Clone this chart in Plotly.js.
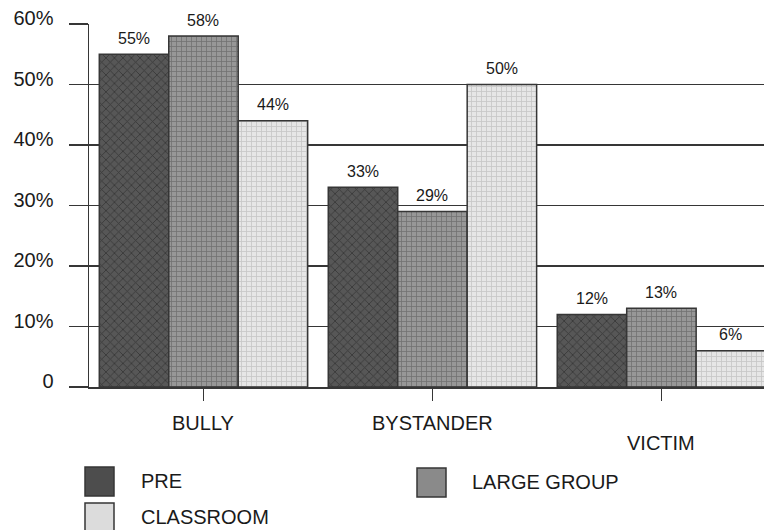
<!DOCTYPE html>
<html>
<head>
<meta charset="utf-8">
<script src="https://cdn.plot.ly/plotly-3.0.1.min.js"></script>
<style>
  html, body { margin: 0; padding: 0; background: #fff; }
  #chart { width: 764px; height: 530px; }
</style>
</head>
<body>
<div id="chart"></div>
<script>
// Role categories and the share of students in each, per session type
const categories = ['BULLY', 'BYSTANDER', 'VICTIM'];
const seriesNames = ['PRE', 'LARGE GROUP', 'CLASSROOM'];
const pre = [55, 33, 12];
const largeGroup = [58, 29, 13];
const classroom = [44, 50, 6];
const yTickVals = [0, 10, 20, 30, 40, 50, 60];
const yTickText = ['0', '10%', '20%', '30%', '40%', '50%', '60%'];

const seriesValues = [pre, largeGroup, classroom];

// Texture styles for each series
const styles = [
  { bg: '#575757', fg: '#363636', shape: 'x', size: 6, solidity: 0.25, swatch: '#4d4d4d' },
  { bg: '#979797', fg: '#727272', shape: '+', size: 5, solidity: 0.3, swatch: '#8a8a8a' },
  { bg: '#e6e6e6', fg: '#c6c6c6', shape: '+', size: 5, solidity: 0.3, swatch: '#dcdcdc' }
];

const W = 764, H = 530;
const M = { l: 89, r: 0, t: 24, b: 143 };
const plotW = W - M.l - M.r, plotH = H - M.t - M.b;
// pixel -> paper helpers for layout decorations
const px = p => (p - M.l) / plotW;
const py = p => (H - M.b - p) / plotH;

const bargap = 0.09;
const barW = (1 - bargap) / seriesNames.length;
const lineColor = '#363636';
const textColor = '#1a1a1a';
const fontFamily = 'Liberation Sans, Arial, Helvetica, sans-serif';

const traces = seriesNames.map((name, k) => ({
  type: 'bar',
  name: name,
  x: categories,
  y: seriesValues[k],
  marker: {
    color: styles[k].bg,
    line: { color: lineColor, width: 1.5 },
    pattern: {
      shape: styles[k].shape,
      bgcolor: styles[k].bg,
      fgcolor: styles[k].fg,
      size: styles[k].size,
      solidity: styles[k].solidity
    }
  },
  hoverinfo: 'x+y+name',
  cliponaxis: false
}));

const annotations = [];
// value labels above each bar
seriesValues.forEach((vals, k) => {
  vals.forEach((v, i) => {
    annotations.push({
      x: i + (k - 1) * barW, y: v, xref: 'x', yref: 'y',
      text: v + '%', showarrow: false, yanchor: 'middle', yshift: 16,
      font: { family: fontFamily, size: 16, color: textColor }
    });
  });
});
// category labels (VICTIM sits one step lower)
const catLabelY = [423, 423, 443];
categories.forEach((c, i) => {
  annotations.push({
    x: i, y: py(catLabelY[i]), xref: 'x', yref: 'paper',
    text: c, showarrow: false, yanchor: 'middle', xanchor: 'center',
    font: { family: fontFamily, size: 20, color: textColor }
  });
});

// legend drawn as swatches + labels
const legendItems = [
  { k: 0, box: [85, 467], text: [139, 481] },
  { k: 2, box: [85, 503], text: [139, 517] },
  { k: 1, box: [417, 468], text: [470, 482] }
];
const shapes = [];
legendItems.forEach(it => {
  shapes.push({
    type: 'rect', xref: 'paper', yref: 'paper',
    x0: px(it.box[0]), x1: px(it.box[0] + 29),
    y0: py(it.box[1]), y1: py(it.box[1] + 29),
    fillcolor: styles[it.k].swatch,
    line: { color: lineColor, width: 1.5 }
  });
  annotations.push({
    x: px(it.text[0]), y: py(it.text[1]), xref: 'paper', yref: 'paper',
    text: seriesNames[it.k], showarrow: false, xanchor: 'left', yanchor: 'middle',
    font: { family: fontFamily, size: 20, color: textColor }
  });
});

const layout = {
  width: W, height: H,
  margin: M,
  paper_bgcolor: '#ffffff',
  plot_bgcolor: '#ffffff',
  barmode: 'group',
  bargap: bargap,
  bargroupgap: 0,
  showlegend: false,
  font: { family: fontFamily, color: textColor },
  xaxis: {
    type: 'category',
    range: [-0.5, 2.448],
    showticklabels: false,
    ticks: 'outside', ticklen: 12, tickwidth: 1.5, tickcolor: lineColor,
    showline: true, linecolor: lineColor, linewidth: 1.5,
    showgrid: false, zeroline: false, fixedrange: true
  },
  yaxis: {
    range: [0, 60],
    tickvals: yTickVals, ticktext: yTickText,
    ticks: 'outside', ticklen: 19, tickwidth: 1.5, tickcolor: lineColor,
    ticklabelstandoff: 11, ticklabelshift: -6,
    tickfont: { family: fontFamily, size: 20, color: textColor },
    showgrid: true, gridcolor: lineColor, gridwidth: 1.5,
    showline: true, linecolor: lineColor, linewidth: 1.5,
    zeroline: false, fixedrange: true
  },
  annotations: annotations,
  shapes: shapes
};

Plotly.newPlot('chart', traces, layout, { displayModeBar: false, staticPlot: true });
</script>
</body>
</html>
